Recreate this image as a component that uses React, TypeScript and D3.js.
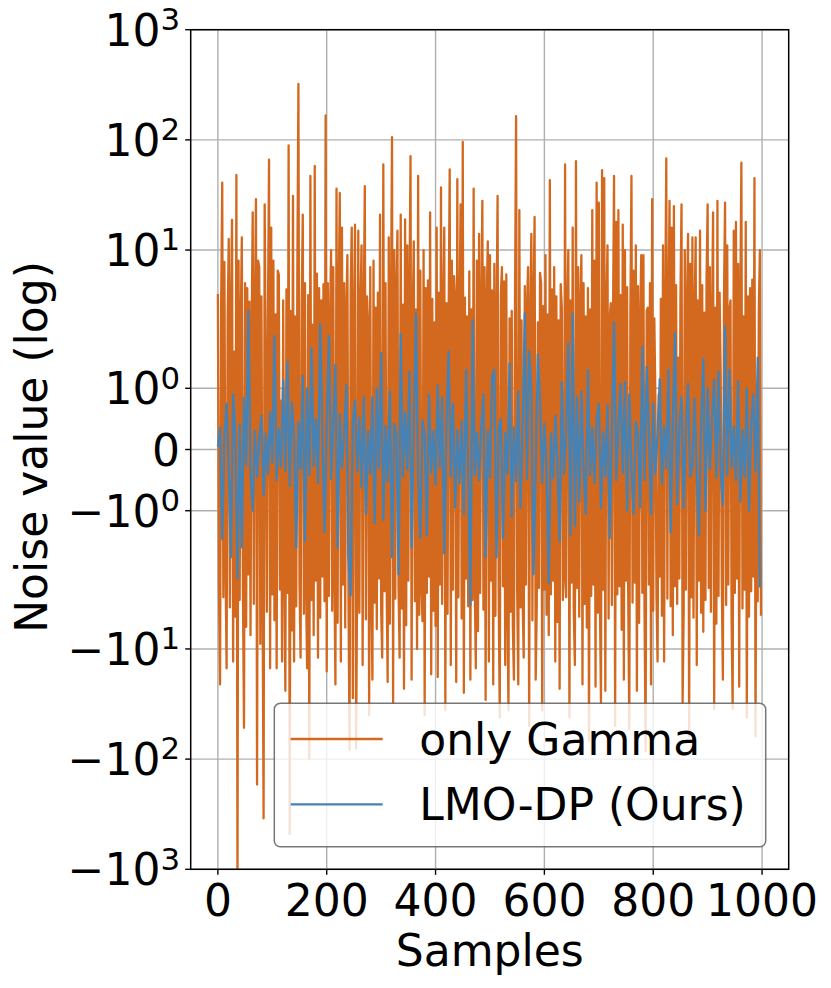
import React from 'react';
import * as d3 from 'd3';

// sample spacing of each series (values at this step)
const gammaStep = 2;
const lmoStep = 4;

// "only Gamma" noise, samples 0, 2, 4, ... 998
const onlyGamma = [
  4, -2.6, -21, 3.1, 41, -3.4, 7.8, -1.8, -15, 2.4,
  12.6, -4.2, 2.9, 18.8, -13, 1.6, -5.1, 48, -1500, 8,
  -3.6, 2.2, 13, -2.8, -52, 5, -6.3, 4.5, -2.1, 3.4,
  -7.5, 1.9, 22, -3.9, 2.7, 29, -170, 8, 7, -9,
  3.8, -2.3, -345, 26, 1.2, -4.6, 2.5, 66, -15, 16,
  -3.2, 8, -5.5, 2.6, -15, 6.5, 6, -2.9, 0.8, -13,
  3.5, -1.7, -24, 4.4, -3.1, 89, -480, 2.8, -6.8, 31,
  -13, 2.5, -4.1, 5.7, 322, -2.5, -12, 3.3, 21, -4.8,
  5, -2.7, -15, 3.9, -100, 47, -3.6, 2.1, -7.5, 58,
  -2.4, 6.1, -12, 4.5, -5.2, 3.5, -2.2, 4.9, -3.7, 167,
  -16, 5, -3.3, 2.3, 10, -4.5, 7, -1.9, -21, 36,
  -5.8, 3.6, 33, -13, 16, -2.6, 5, -6.4, 2.8, 9,
  -3.4, -82, 4.2, 16, -28, 2.4, 17, -80, -2.1, 15,
  -4.7, 3.1, 11, -14, 2.6, 38, -5.4, 3.8, 2.2, -40,
  7, -2.9, -19, 8, -3.8, 3, -6.6, 4.1, -2.3, 21,
  -4.4, -12, 60, -3.0, 5, -2.2, -20, 13, -5.9, 2.7,
  106, -31, 10, -3.5, 4.6, 15, -2.8, -12, 21, -4.3,
  3.2, -23, 19, -6.1, 11, -2.4, 3.9, 71, -19, 2.5,
  12, -3.7, 2.9, -10, 47, -4.9, 6.5, -2.7, -5.6, 10,
  -40, 4.5, -3.1, 5.3, -2.2, 22, -17, 3.6, -4.5, 2.2,
  -6.2, 16, -18, 4.1, -2.6, 37, -3.9, 2.8, 16, -36,
  3.3, -4.8, 2.4, 54, -14, 8, -2.9, 5.8, 3.5, -20,
  44, -3.4, 2.2, 26, -5.3, 96, -25, 3.7, -2.3, 2.5,
  -4.1, 6.4, -19, 2.9, -3.6, 36, -2.5, -15, 8, -6.9,
  14, -3.1, 2.6, 28, -4.4, 7, -29, 3.4, 12, -13,
  9, -2.4, 4.3, -21, 7.5, -5.0, 2.1, 31, -3.3, -42,
  3.9, 7, -2.7, 5.2, -14, 6, -3.8, -36, 2.4, -4.6,
  2.8, -6.0, -19, 3.5, 164, -2.9, -21, 23, -4.2, 2.3,
  -3.5, -12, 4.7, -2.6, 3.0, 7, -50, 2.5, 14, -5.5,
  3.6, 20, -19, -4.0, 2.2, -2.8, 6.2, 5, -36, 3.1,
  -2.9, 9, -4.9, 2.6, -7.5, 43, -3.2, 4.4, -2.4, 7,
  -13, 3.8, -5.7, 2.3, -23, 4.9, 3, -3.6, -2.2, 60,
  -3.4, 2.7, 10, -42, 3.5, -2.5, 16, -4.5, -14, 64,
  -2.8, 7, -5.1, 3.2, 9, -21, 5, -3.9, 2.5, -6.4,
  4.5, -68, 2.9, -3.3, 23, -2.6, 8, -22, 41, -4.7,
  27, -3.6, -31, 53, -2.9, 45, -24, 3.4, 11, -5.3,
  2.4, 3.3, -4.0, 2.1, 47, -50, 18, -3.2, 23, -2.7,
  3.9, -6.7, 17, -19, 10, -2.4, 4.6, -3.0, -54, 2.6,
  47, -3.8, 6.5, -2.5, 11, -24, 4.7, -5.8, 2.3, 9,
  -3.1, 9, -4.3, -85, 2.8, 3, -2.6, 5, -21, 29,
  -4.5, 2.4, 0.8, -3.3, -13, 0.9, -2.2, 3.6, -5.0, 11,
  -13, 2.5, 68, -3.5, 2.9, 28, -4.1, 16, -7.5, 25,
  -2.7, 4.8, -3.9, 1.5, -2.3, 3.7, 26, -31, -4.4, 10,
  -2.9, 3.2, 14, -62, 7.5, -3.4, 13, -5.2, 2.6, 13,
  -14, 3.5, -2.4, 15, -4.7, 4.8, -7, 2.7, -3.6, 5.5,
  26, -2.8, 7, -4.6, 2.2, 22, -35, 3.0, -5.9, 28,
  -3.3, 4.1, 1.2, -2.5, -19, 3.6, 27, -4.0, 11, -2.6,
  2.9, 3.5, -5.4, -35, 15, -3.1, 18, -2.3, 7.5, -22,
  3.4, 62, -4.3, 2.5, -2.9, 18, -42, 3.8, -5.1, 4.5,
  -3.0, 5.4, -2.2, 45, -62, 0.8, -3.7, 2.8, 10, -5,
];

// "LMO-DP (Ours)" noise, samples 0, 4, 8, ... 996
const lmoDp = [
  0.05, 0.35, -1.46, 0.22, 0.75, -0.3, -1.76, 0.9, 0.28, -2.3,
  0.41, -1.6, 0.84, -0.25, 2.8, -0.38, -1.0, 0.3, -0.45, 0.18,
  0.55, -0.75, 0.26, -0.4, 0.62, -0.22, 1.85, -0.5, 0.33, -0.28,
  1.13, -0.35, 1.43, -0.6, 0.77, 0.2, -1.6, 0.45, -0.32, 1.2,
  -1.5, 1.0, -0.42, 1.65, -0.27, 0.5, -0.55, 2.13, 0.3, -1.35,
  0.36, 1.85, -0.48, 0.4, 1.38, -1.6, 0.58, -0.3, 0.24, 1.05,
  -1.75, -3.27, 0.44, 0.8, -0.36, 0.52, -0.62, 0.85, -1.05, 0.3,
  -0.4, 0.85, -1.2, 1.0, -0.3, 1.58, -1.15, 0.38, -0.52, 0.95,
  -1.76, 0.42, 0.25, -2.1, 1.89, -0.45, 0.6, -0.33, 1.27, -1.6,
  0.35, 2.66, -0.5, -1.45, 0.48, 0.22, -1.4, 0.9, -0.38, 0.3,
  -0.58, 1.05, -0.3, 0.85, -1.7, 0.4, 1.6, -0.44, 0.75, -0.95,
  0.32, -0.55, 0.46, -1.05, 1.3, -0.35, -4.0, 2.3, -0.42, 0.28,
  -0.5, 0.38, 0.9, -1.75, 0.3, -0.46, 1.2, 1.3, -1.76, 0.34,
  0.5, -1.45, 0.27, -0.4, 1.4, -1.1, 0.36, -0.52, 0.95, -0.95,
  0.3, 2.66, -0.48, 1.6, 0.95, -2.1, -0.3, 1.55, 0.77, -0.55,
  0.42, -0.33, -2.54, 0.26, -0.47, 0.55, -0.28, -1.5, 1.1, -0.4,
  0.3, 1.73, -1.4, 2.66, -1.25, 0.85, -0.85, 0.95, -0.36, -1.05,
  1.3, -0.42, 0.35, -0.55, 0.48, 0.75, -0.95, 0.28, -0.44, 0.72,
  -1.45, 0.33, 2.2, -0.5, 0.4, 1.07, -0.38, 1.1, -1.0, 0.9,
  -0.34, -1.05, 0.45, 0.26, -0.95, 1.68, -0.5, 1.35, 0.3, -1.05,
  0.75, -0.4, 0.28, 1.15, -0.56, 0.38, -0.3, 1.3, -1.35, 0.44,
  1.9, -0.9, 0.36, 0.85, -0.95, 0.3, 1.07, -0.45, -0.28, 0.83,
  -0.38, -1.4, 0.4, 1.48, -1.0, 1.0, -0.32, 0.5, 1.15, -0.46,
  1.27, -0.35, -0.9, 2.02, -0.42, 1.3, -0.3, 0.38, -0.5, 1.12,
  -0.85, 0.32, -0.45, 1.0, -1.0, 0.4, 0.9, -0.36, 1.5, -2.77,
];

const xTicks = [0, 200, 400, 600, 800, 1000];
const yTicks = [-1000, -100, -10, -1, 0, 1, 10, 100, 1000];
const seriesNames = ['only Gamma', 'LMO-DP (Ours)'];
const seriesColors = ['#d2691e', '#4682b4'];

// matplotlib-style symlog (base 10, linthresh 2, linscale 1)
const LINTHRESH = 2;
const LINSCALE_ADJ = 1 / (1 - 1 / 10);
const symlog = (v: number) => {
  const a = Math.abs(v);
  if (a <= LINTHRESH) return v * LINSCALE_ADJ;
  return Math.sign(v) * LINTHRESH * (LINSCALE_ADJ + Math.log10(a / LINTHRESH));
};

const W = 831;
const H = 988;
const plot = { left: 190.7, right: 788.7, top: 29.7, bottom: 869.3 };
const FONT = 'DejaVu Sans, sans-serif';
const FS = 44;

const TickLabel: React.FC<{ v: number; y: number }> = ({ v, y }) => {
  if (v === 0) {
    return (
      <text x={180} y={y + 16} textAnchor="end" fontSize={FS}>0</text>
    );
  }
  const exp = Math.round(Math.log10(Math.abs(v)));
  return (
    <text x={180} y={y + 16} textAnchor="end" fontSize={FS}>
      {v < 0 ? '\u2212' : ''}10
      <tspan fontSize={FS * 0.7} dy={-15.7}>{exp}</tspan>
    </text>
  );
};

export default function App() {
  const x = d3.scaleLinear().domain([-49.95, 1048.95]).range([plot.left, plot.right]);
  const y = d3.scaleLinear().domain([symlog(-1000), symlog(1000)]).range([plot.bottom, plot.top]);

  const lineFor = (step: number) =>
    d3.line<number>()
      .x((_, i) => x(i * step))
      .y(d => y(symlog(d)));

  const gammaPath = lineFor(gammaStep)(onlyGamma) || '';
  const lmoPath = lineFor(lmoStep)(lmoDp) || '';

  const legend = { x: 274.3, y: 703.3, w: 491.4, h: 143.4 };
  const rowY = [739, 804.3];

  return (
    <div style={{ position: 'absolute', left: 0, top: 0 }}>
      <svg width={W} height={H} fontFamily={FONT} style={{ display: 'block', background: '#fff' }}>
        <defs>
          <clipPath id="plotClip">
            <rect x={plot.left} y={plot.top} width={plot.right - plot.left} height={plot.bottom - plot.top} />
          </clipPath>
        </defs>

        {/* grid */}
        <g stroke="#b0b0b0" strokeWidth={1.4}>
          {xTicks.map(t => (
            <line key={'gx' + t} x1={x(t)} x2={x(t)} y1={plot.top} y2={plot.bottom} />
          ))}
          {yTicks.map(t => (
            <line key={'gy' + t} x1={plot.left} x2={plot.right} y1={y(symlog(t))} y2={y(symlog(t))} />
          ))}
        </g>

        {/* series */}
        <g clipPath="url(#plotClip)" fill="none" strokeWidth={2.3} strokeLinejoin="round">
          <path d={gammaPath} stroke={seriesColors[0]} />
          <path d={lmoPath} stroke={seriesColors[1]} />
        </g>

        {/* spines */}
        <rect x={plot.left} y={plot.top} width={plot.right - plot.left} height={plot.bottom - plot.top}
          fill="none" stroke="#000" strokeWidth={1.5} />

        {/* x axis */}
        {xTicks.map(t => (
          <g key={'xt' + t}>
            <line x1={x(t)} x2={x(t)} y1={plot.bottom} y2={plot.bottom + 5.5} stroke="#000" strokeWidth={1.4} />
            <text x={x(t)} y={916} textAnchor="middle" fontSize={FS}>{t}</text>
          </g>
        ))}
        <text x={(plot.left + plot.right) / 2} y={966} textAnchor="middle" fontSize={FS}>Samples</text>

        {/* y axis */}
        {yTicks.map(t => (
          <g key={'yt' + t}>
            <line x1={plot.left - 5.5} x2={plot.left} y1={y(symlog(t))} y2={y(symlog(t))} stroke="#000" strokeWidth={1.4} />
            <TickLabel v={t} y={y(symlog(t))} />
          </g>
        ))}
        <text transform={`translate(46.5,447) rotate(-90)`} textAnchor="middle" fontSize={FS}>Noise value (log)</text>

        {/* legend */}
        <rect x={legend.x} y={legend.y} width={legend.w} height={legend.h} rx={6}
          fill="#fff" fillOpacity={0.8} stroke="#555" strokeOpacity={0.8} strokeWidth={1.5} />
        {seriesNames.map((name, i) => (
          <g key={name}>
            <line x1={290.7} x2={382.7} y1={rowY[i]} y2={rowY[i]} stroke={seriesColors[i]} strokeWidth={2.3} />
            <text x={419.3} y={rowY[i] + 16} fontSize={FS}>{name}</text>
          </g>
        ))}
      </svg>
    </div>
  );
}
